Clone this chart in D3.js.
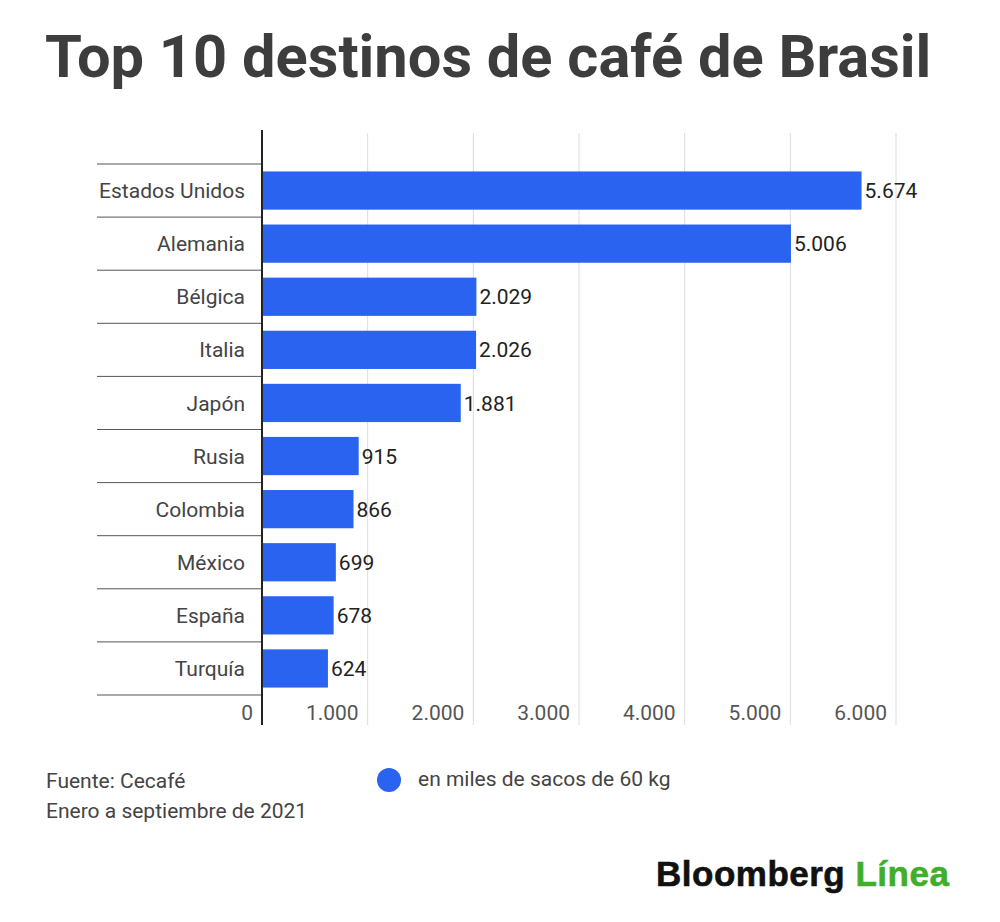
<!DOCTYPE html>
<html>
<head>
<meta charset="utf-8">
<script src="https://cdn.jsdelivr.net/npm/d3@7"></script>
<style>
  body { margin: 0; background: #fff; }
  svg { display: block; font-family: Roboto, "Noto Sans", sans-serif; }
</style>
</head>
<body>
<div id="chart"></div>
<script>
const countries = ["Estados Unidos", "Alemania", "Bélgica", "Italia", "Japón", "Rusia", "Colombia", "México", "España", "Turquía"];
const sacks = [5674, 5006, 2029, 2026, 1881, 915, 866, 699, 678, 624];
const xTicks = [0, 1000, 2000, 3000, 4000, 5000, 6000];

const width = 1000, height = 922;
const margin = { left: 262, right: 104, top: 164, bottom: 227 };

const svg = d3.select("#chart").append("svg")
    .attr("width", width)
    .attr("height", height);

const fmt = d3.formatLocale({ decimal: ",", thousands: ".", grouping: [3], currency: ["", ""] }).format(",d");

const x = d3.scaleLinear()
    .domain([0, 6000])
    .range([margin.left, width - margin.right]);

const y = d3.scaleBand()
    .domain(countries)
    .range([margin.top, height - margin.bottom])
    .paddingInner(0.28)
    .paddingOuter(0.14);

const rows = countries.map((c, i) => ({ country: c, value: sacks[i] }));

// title
svg.append("text")
    .attr("x", 45)
    .attr("y", 77)
    .attr("font-size", 59.6)
    .attr("font-weight", 700)
    .attr("fill", "#3d3d3d")
    .text("Top 10 destinos de café de Brasil");

// vertical gridlines
svg.append("g")
    .selectAll("line")
    .data(xTicks.slice(1))
    .join("line")
    .attr("x1", d => x(d))
    .attr("x2", d => x(d))
    .attr("y1", 133)
    .attr("y2", 725)
    .attr("stroke", "#dcdcdc")
    .attr("stroke-width", 1);

// row separators to the left of the axis
const gap = (y.step() - y.bandwidth()) / 2;
const seps = countries.map(c => y(c) - gap);
seps.push(y(countries[countries.length - 1]) + y.bandwidth() + gap);
svg.append("g")
    .selectAll("line")
    .data(seps)
    .join("line")
    .attr("x1", 97)
    .attr("x2", margin.left)
    .attr("y1", d => d)
    .attr("y2", d => d)
    .attr("stroke", "#555")
    .attr("stroke-width", 1);

// bars
svg.append("g")
    .selectAll("rect")
    .data(rows)
    .join("rect")
    .attr("x", x(0))
    .attr("y", d => y(d.country))
    .attr("width", d => x(d.value) - x(0))
    .attr("height", y.bandwidth())
    .attr("fill", "#2a63f0");

// value labels
svg.append("g")
    .selectAll("text")
    .data(rows)
    .join("text")
    .attr("x", d => x(d.value) + 3)
    .attr("y", d => y(d.country) + y.bandwidth() / 2)
    .attr("dy", "0.36em")
    .attr("font-size", 21)
    .attr("fill", "#222")
    .text(d => fmt(d.value));

// category labels
svg.append("g")
    .selectAll("text")
    .data(rows)
    .join("text")
    .attr("x", 245)
    .attr("y", d => y(d.country) + y.bandwidth() / 2)
    .attr("dy", "0.36em")
    .attr("text-anchor", "end")
    .attr("font-size", 21)
    .attr("fill", "#444")
    .text(d => d.country);

// x axis tick labels
svg.append("g")
    .selectAll("text")
    .data(xTicks)
    .join("text")
    .attr("x", d => x(d) - 9)
    .attr("y", 720)
    .attr("text-anchor", "end")
    .attr("font-size", 21)
    .attr("fill", "#555")
    .text(d => fmt(d));

// baseline axis
svg.append("line")
    .attr("x1", x(0))
    .attr("x2", x(0))
    .attr("y1", 130)
    .attr("y2", 725)
    .attr("stroke", "#222")
    .attr("stroke-width", 2);

// source
svg.append("text")
    .attr("x", 46)
    .attr("y", 788)
    .attr("font-size", 21)
    .attr("fill", "#444")
    .text("Fuente: Cecafé");
svg.append("text")
    .attr("x", 46)
    .attr("y", 818)
    .attr("font-size", 21)
    .attr("fill", "#444")
    .text("Enero a septiembre de 2021");

// legend
svg.append("circle")
    .attr("cx", 389)
    .attr("cy", 780)
    .attr("r", 12)
    .attr("fill", "#2a63f0");
svg.append("text")
    .attr("x", 418)
    .attr("y", 786)
    .attr("font-size", 21)
    .attr("fill", "#444")
    .text("en miles de sacos de 60 kg");

// logo
const logo = svg.append("text")
    .attr("x", 656)
    .attr("y", 886)
    .attr("font-family", "'Liberation Sans', Arial, sans-serif")
    .attr("font-size", 35)
    .attr("font-weight", 700)
    .attr("stroke-width", 0.6)
    .attr("letter-spacing", 0.5);
logo.append("tspan").attr("fill", "#111").attr("stroke", "#111").text("Bloomberg ");
logo.append("tspan").attr("fill", "#3fae2a").attr("stroke", "#3fae2a").text("Línea");
</script>
</body>
</html>
